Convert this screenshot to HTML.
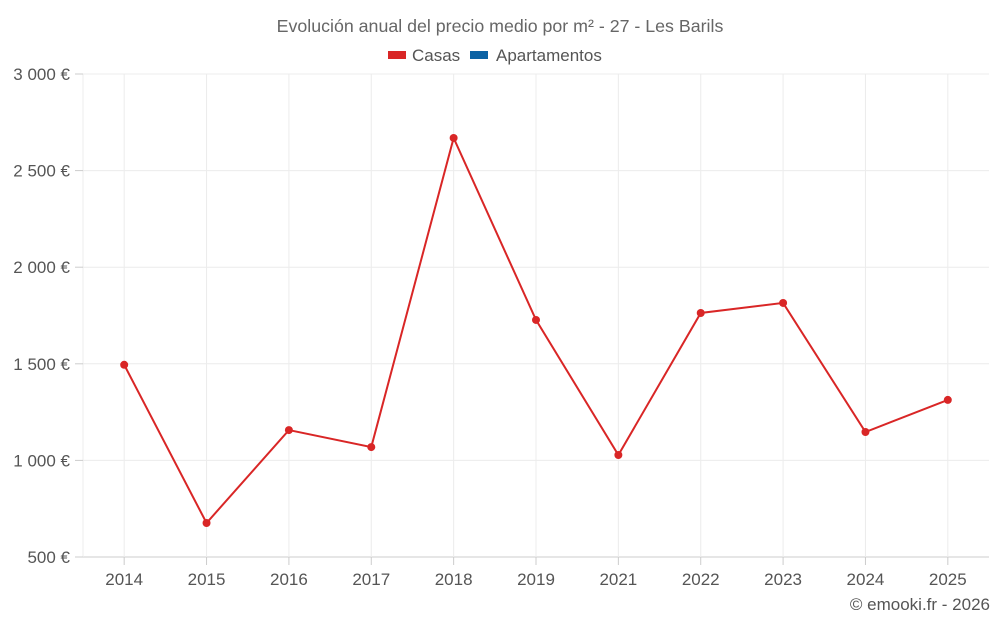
<!DOCTYPE html>
<html><head><meta charset="utf-8"><style>
body{margin:0;background:#fff;font-family:"Liberation Sans",sans-serif}
svg text{font-family:"Liberation Sans",sans-serif}
</style></head><body>
<svg id="c" width="1000" height="625">
<text x="500" y="32" text-anchor="middle" font-size="17.8" fill="#666">Evolución anual del precio medio por m² - 27 - Les Barils</text>
<g><rect x="388" y="51" width="18" height="8" fill="#d92626"/><text x="412" y="61" font-size="17" fill="#555">Casas</text></g>
<g><rect x="470" y="51" width="18" height="8" fill="#0b62a4"/><text x="496" y="61" font-size="17" fill="#555">Apartamentos</text></g>
<g id="grid"></g><g id="axes"></g><g id="series"></g>
<text x="990" y="610" text-anchor="end" font-size="17" fill="#555">© emooki.fr - 2026</text>
</svg>
<script>
const categories=["2014","2015","2016","2017","2018","2019","2021","2022","2023","2024","2025"];
const casas=[1495,676,1157,1069,2669,1727,1028,1763,1815,1147,1313];
const yTicks=[500,1000,1500,2000,2500,3000];
const yTickLabels=["500 €","1 000 €","1 500 €","2 000 €","2 500 €","3 000 €"];
const L=83,R=989,T=74,B=557,ymin=500,ymax=3000;
const bw=(R-L)/categories.length;
const x=i=>L+bw*(i+0.5);
const y=v=>B-(v-ymin)/(ymax-ymin)*(B-T);
const NS="http://www.w3.org/2000/svg";
function mk(tag,attrs,parent,txt){const e=document.createElementNS(NS,tag);for(const k in attrs)e.setAttribute(k,attrs[k]);if(txt!=null)e.textContent=txt;document.getElementById(parent).appendChild(e);return e;}
yTicks.forEach((t,i)=>{
 const g=mk('line',{x1:L,x2:R,y1:y(t),y2:y(t),stroke:i==0?'#ccc':'#ececec','stroke-width':1},'grid');
 
 
 const tk=mk('line',{x1:L-8,x2:L,y1:y(t),y2:y(t),stroke:'#ccc'},'axes');
 
 
 const lb=mk('text',{x:70,y:y(t)+6,'text-anchor':'end','font-size':17,fill:'#555'},'axes',yTickLabels[i]);
 
 
});
const vl=mk('line',{x1:L,x2:L,y1:T,y2:B,stroke:'#ececec'},'grid');


categories.forEach((c,i)=>{
 const g=mk('line',{x1:x(i),x2:x(i),y1:T,y2:B,stroke:'#ececec'},'grid');
 
 
 const tk=mk('line',{x1:x(i),x2:x(i),y1:B,y2:B+8,stroke:'#ccc'},'axes');
 
 
 const lb=mk('text',{x:x(i),y:B+28,'text-anchor':'middle','font-size':17,fill:'#555'},'axes',c);
 
 
});
const pl=mk('polyline',{points:casas.map((v,i)=>x(i)+','+y(v)).join(' '),fill:'none',stroke:'#d92626','stroke-width':2},'series');


casas.forEach((v,i)=>{
 const p=mk('circle',{cx:x(i),cy:y(v),r:4,fill:'#d92626'},'series');
 
 
});
</script>
</body></html>
